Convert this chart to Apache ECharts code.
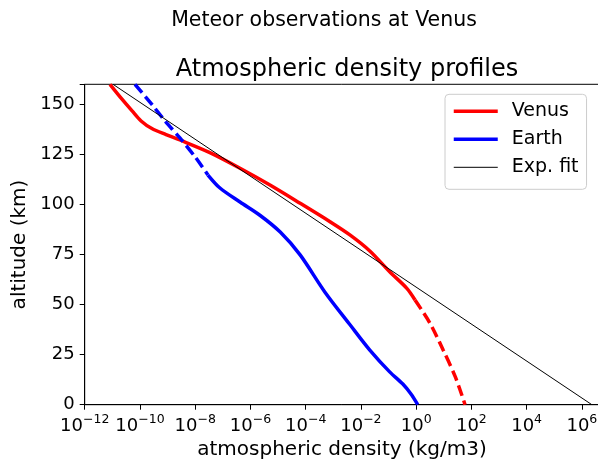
<!DOCTYPE html>
<html>
<head>
<meta charset="utf-8">
<script src="https://cdn.jsdelivr.net/npm/echarts@6/dist/echarts.min.js"></script>
<style>html,body{margin:0;padding:0;background:#fff}#c{width:598px;height:469px}</style>
</head>
<body>
<div id="c"></div>
<script>
// Venus profile (solid part): altitude km, density kg/m3
const venusAlt = [160, 152.7, 146.7, 141.7, 137.9, 134.9, 132.2, 125.9, 118.1, 109.7, 100.6, 91.4, 84.7, 76.8, 66.4, 58.1, 52.3];
const venusRho = [8.2e-12, 2.2e-11, 5.2e-11, 1.1e-10, 2.7e-10, 8.8e-10, 2.8e-9, 3.4e-8, 4.2e-7, 5.1e-6, 6.3e-5, 7.6e-4, 4.1e-3, 0.021, 0.11, 0.46, 0.91];
// Venus lower atmosphere (dashed)
const venusLowAlt = [52.3, 40.6, 27.3, 14.0, 0];
const venusLowRho = [0.91, 3.2, 9.5, 26, 59];
// Earth upper atmosphere (dashed)
const earthUpAlt = [160, 149.7, 141.7, 133.2, 123.7, 114.7];
const earthUpRho = [6.6e-11, 2.8e-10, 8.1e-10, 2.8e-9, 1.0e-8, 2.9e-8];
// Earth (solid)
const earthAlt = [114.7, 108.2, 101.2, 94.6, 86.2, 74.8, 56.2, 39.8, 27.3, 16.4, 10.3, 5.3, 0];
const earthRho = [2.9e-8, 7.9e-8, 4.2e-7, 2.2e-6, 1.2e-5, 6.3e-5, 5.0e-4, 4.1e-3, 0.021, 0.11, 0.33, 0.65, 1.14];
// Exponential fit end points
const fitAlt = [0, 160];
const fitRho = [2.3e6, 1.06e-11];

const yTicks = [0, 25, 50, 75, 100, 125, 150];
const xTickExps = [-12, -10, -8, -6, -4, -2, 0, 2, 4, 6];

function pairs(r, a) { return r.map((v, i) => [v, a[i]]); }

const FONT = 'DejaVu Sans';
const chart = echarts.init(document.getElementById('c'), null, {renderer: 'canvas'});
chart.setOption({
  animation: false,
  textStyle: {fontFamily: FONT, color: '#000'},
  title: [
    {text: 'Meteor observations at Venus', left: 319, textAlign: 'center', top: 5,
     textStyle: {fontFamily: FONT, fontSize: 20.5, fontWeight: 'normal', color: '#000'}},
    {text: 'Atmospheric density profiles', left: 342, textAlign: 'center', top: 53,
     textStyle: {fontFamily: FONT, fontSize: 24, fontWeight: 'normal', color: '#000'}}
  ],
  grid: {left: 84.7, top: 84.3, width: 524.8, bottom: 64.3, containLabel: false, outerBoundsMode: 'none',
         show: true, borderColor: '#000', borderWidth: 1, backgroundColor: 'transparent'},
  legend: {
    orient: 'vertical', left: 445, top: 94.3,
    data: [
      {name: 'Venus', lineStyle: {width: 3.5, color: '#ff0000'}},
      {name: 'Earth', lineStyle: {width: 3.5, color: '#0000ff'}},
      {name: 'Exp. fit', lineStyle: {width: 1, color: '#000'}}
    ],
    itemWidth: 44, itemHeight: 4, itemGap: 8,
    padding: [7, 8, 12, 7],
    itemStyle: {opacity: 0},
    borderColor: '#cccccc', borderWidth: 1, borderRadius: 4,
    backgroundColor: 'rgba(255,255,255,0.8)',
    textStyle: {fontFamily: FONT, fontSize: 19, color: '#000', lineHeight: 20, padding: [0, 0, 0, 9]}
  },
  xAxis: {
    type: 'log', logBase: 10, min: 1e-12, max: 1e7, interval: 2,
    name: 'atmospheric density (kg/m3)', nameLocation: 'start', nameGap: 0,
    nameTextStyle: {fontFamily: FONT, fontSize: 20, color: '#000', align: 'center', verticalAlign: 'top',
                    padding: [35, 0, 0, 2 * (342 - 84.7)]},
    axisLine: {show: true, lineStyle: {color: '#000', width: 1}},
    axisTick: {show: true, length: 5, lineStyle: {color: '#000'}},
    splitLine: {show: false},
    axisLabel: {
      margin: 9, hideOverlap: false,
      formatter: function (v) {
        const e = Math.log10(v);
        const r = Math.round(e);
        if (Math.abs(e - r) > 1e-6 || xTickExps.indexOf(r) < 0) return '';
        const s = (r < 0 ? '\u2212' + (-r) : '' + r);
        return '{b|10}{s|' + s + '}';
      },
      rich: {
        b: {fontFamily: FONT, fontSize: 18, color: '#000', verticalAlign: 'bottom', lineHeight: 20},
        s: {fontFamily: FONT, fontSize: 12.5, color: '#000', verticalAlign: 'bottom', padding: [0, 0, 9, 0]}
      }
    }
  },
  yAxis: {
    type: 'value', min: 0, max: 160, interval: 25,
    name: 'altitude (km)', nameLocation: 'middle', nameGap: 52,
    nameTextStyle: {fontFamily: FONT, fontSize: 20, color: '#000'},
    axisLine: {show: true, lineStyle: {color: '#000', width: 1}},
    axisTick: {show: true, length: 5, lineStyle: {color: '#000'}},
    splitLine: {show: false},
    axisLabel: {
      margin: 10, fontFamily: FONT, fontSize: 18, color: '#000',
      formatter: function (v) { return yTicks.indexOf(v) >= 0 ? String(v) : ''; }
    }
  },
  series: [
    {name: 'Venus', type: 'line', data: pairs(venusRho, venusAlt), showSymbol: false, symbol: 'none', smooth: 0.3,
     lineStyle: {color: '#ff0000', width: 3.5}, itemStyle: {color: '#ff0000'}, z: 2},
    {name: 'Venus low', type: 'line', data: pairs(venusLowRho, venusLowAlt), showSymbol: false, symbol: 'none', smooth: 0.3,
     lineStyle: {color: '#ff0000', width: 3.5, type: [11, 5]}, itemStyle: {color: '#ff0000'}, z: 2},
    {name: 'Earth', type: 'line', data: pairs(earthRho, earthAlt), showSymbol: false, symbol: 'none', smooth: 0.3,
     lineStyle: {color: '#0000ff', width: 3.5}, itemStyle: {color: '#0000ff'}, z: 3},
    {name: 'Earth upper', type: 'line', data: pairs(earthUpRho, earthUpAlt), showSymbol: false, symbol: 'none', smooth: 0.3,
     lineStyle: {color: '#0000ff', width: 3.5, type: [11, 5]}, itemStyle: {color: '#0000ff'}, z: 3},
    {name: 'Exp. fit', type: 'line', data: pairs(fitRho, fitAlt), showSymbol: false, symbol: 'none',
     lineStyle: {color: '#000', width: 1}, itemStyle: {color: '#000'}, z: 4}
  ]
});
</script>
</body>
</html>
